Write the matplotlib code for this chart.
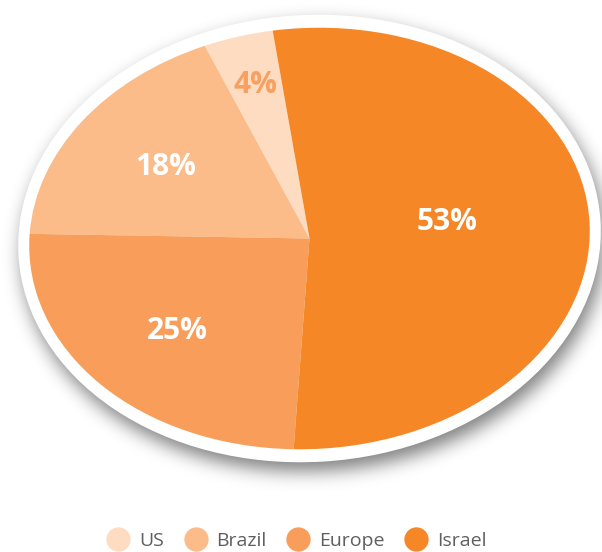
import numpy as np
import matplotlib
matplotlib.use("Agg")
import matplotlib.pyplot as plt
from matplotlib.patches import Ellipse
from matplotlib.lines import Line2D
from matplotlib.transforms import Affine2D

# data
regions = ["US", "Brazil", "Europe", "Israel"]
shares = [4, 18, 25, 53]
colors = ["#FDDCC1", "#FBBC89", "#F89E5A", "#F58727"]
label_colors = ["#F8A060", "white", "white", "white"]
label_radius = [0.76, 0.625, 0.634, 0.494]
label_shift = [0, 1, 0, 5]     # degrees

W, H = 602, 552
cx, cy = 309.5, 238.5   # pie centre in pixels (from top-left)
rx, ry = 280.5, 210.5   # ellipse radii in pixels
tilt = 3.4              # ellipse rotation, degrees
rim_x, rim_y = 11, 13   # white rim thickness in pixels

fig = plt.figure(figsize=(W / 100, H / 100), dpi=100)
ax = fig.add_axes([0, 0, 1, 1])

# unit-circle pie -> tilted ellipse in pixel coordinates (y up)
pie_tr = Affine2D().scale(rx, ry).rotate_deg(tilt).translate(cx, H - cy)

# blurred drop shadow under the rim
yy, xx = np.mgrid[0:H, 0:W] + 0.5
dx = xx - (cx + 4)
dy = yy - (H - cy - 9)
t = np.deg2rad(tilt)
u = np.cos(t) * dx + np.sin(t) * dy
v = -np.sin(t) * dx + np.cos(t) * dy
mask = ((u / (rx + rim_x)) ** 2 + (v / (ry + rim_y)) ** 2 <= 1).astype(float)
sigma = 9
k = np.arange(-3 * sigma, 3 * sigma + 1)
kern = np.exp(-k ** 2 / (2 * sigma ** 2))
kern /= kern.sum()
blur = np.apply_along_axis(lambda r: np.convolve(r, kern, mode="same"), 1, mask)
blur = np.apply_along_axis(lambda c: np.convolve(c, kern, mode="same"), 0, blur)
shadow = np.zeros((H, W, 4))
shadow[..., 3] = blur * 0.5
ax.imshow(shadow, extent=(0, W, 0, H), origin="lower", zorder=0,
          interpolation="bilinear")

# white rim
ax.add_patch(Ellipse((cx, H - cy), 2 * (rx + rim_x), 2 * (ry + rim_y), angle=tilt,
                     facecolor="white", edgecolor="none", zorder=1))

wedges, _ = ax.pie(shares, colors=colors, startangle=95, counterclock=True,
                   wedgeprops=dict(linewidth=0))
for w in wedges:
    w.set_transform(pie_tr + ax.transData)
    w.set_zorder(2)

for w, s, c, r, sh in zip(wedges, shares, label_colors, label_radius, label_shift):
    ang = np.deg2rad((w.theta1 + w.theta2) / 2 + sh)
    px, py = pie_tr.transform((r * np.cos(ang), r * np.sin(ang)))
    ax.text(px, py, f"{s}%", color=c, fontsize=21.5, fontweight="bold",
            ha="center", va="center", family="Open Sans", zorder=3)

ax.set_aspect("auto")
ax.set_xlim(0, W)
ax.set_ylim(0, H)
ax.axis("off")

handles = [Line2D([], [], marker="o", linestyle="none", markersize=17.5,
                  markerfacecolor=c, markeredgecolor="none") for c in colors]
leg = fig.legend(handles, regions, loc="center", bbox_to_anchor=(296 / W, 11 / H),
                 ncol=4, frameon=False, handletextpad=0.4, columnspacing=1.0,
                 handlelength=1.3, prop=dict(family="Open Sans", size=14))
for t in leg.get_texts():
    t.set_color("#5f5f5f")

fig.savefig("out.png", dpi=100, facecolor="white")
